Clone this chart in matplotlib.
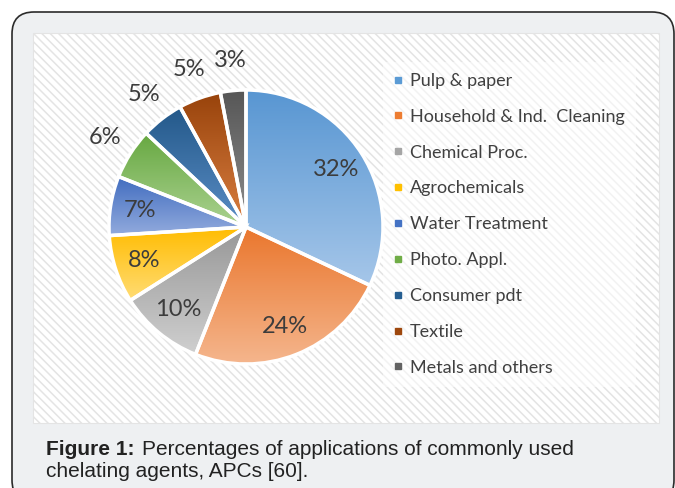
import numpy as np
import matplotlib.pyplot as plt
from matplotlib.patches import FancyBboxPatch, Rectangle
from matplotlib.lines import Line2D
from matplotlib.colors import LinearSegmentedColormap

# data
categories = ['Pulp & paper', 'Household & Ind.  Cleaning', 'Chemical Proc.', 'Agrochemicals',
              'Water Treatment', 'Photo. Appl.', 'Consumer pdt', 'Textile', 'Metals and others']
shares = [32, 24, 10, 8, 7, 6, 5, 5, 3]
base_colors = ['#5B9BD5', '#ED7D31', '#A5A5A5', '#FFC000', '#4472C4',
               '#70AD47', '#255E91', '#9E480E', '#636363']
top_colors = ['#5896d2', '#ea772e', '#979797', '#ffbc00', '#416dc0',
              '#67a841', '#235889', '#98430b', '#575757']
bottom_colors = ['#a5c6e9', '#f5b78f', '#cfcfcf', '#ffdc74', '#93abdd',
                 '#abd291', '#5b8ec6', '#da7f42', '#8c8c8c']

plt.rcParams['hatch.color'] = '#cdcdcd'
plt.rcParams['hatch.linewidth'] = 1.1

fig = plt.figure(figsize=(6.75, 4.88), dpi=100)
fig.patch.set_facecolor('white')

# background axes in pixel units
bg = fig.add_axes([0, 0, 1, 1])
bg.set_xlim(0, 675)
bg.set_ylim(488, 0)
bg.axis('off')
bg.add_patch(FancyBboxPatch((12, 12), 662, 490, boxstyle='round,pad=0,rounding_size=22',
                            facecolor='#eef0f2', edgecolor='#2b2b2b', linewidth=1.2))
bg.add_patch(Rectangle((33, 33), 626, 390, facecolor='white', edgecolor='#e4e4e4',
                       hatch='\\\\\\\\', linewidth=0.8))
bg.text(46, 455, 'Figure 1:', fontsize=15, fontweight='bold', family='Liberation Sans',
        color='#222222', va='baseline')
bg.text(142, 455, 'Percentages of applications of commonly used', fontsize=15,
        family='Liberation Sans', color='#222222', va='baseline')
bg.text(46, 477, 'chelating agents, APCs [60].', fontsize=15,
        family='Liberation Sans', color='#222222', va='baseline')

# pie axes: center (246, 227) px, radius 137 px
cx, cy, r = 246, 227, 137
ax = fig.add_axes([(cx - r) / 675, (488 - cy - r) / 488, 2 * r / 675, 2 * r / 488])
ax.set_xlim(-1, 1)
ax.set_ylim(-1, 1)
ax.axis('off')

wedges, _ = ax.pie(shares, startangle=90, counterclock=False, radius=1,
                   wedgeprops=dict(edgecolor='white', linewidth=2.5))
for w, c0, c1 in zip(wedges, top_colors, bottom_colors):
    verts = w.get_path().vertices
    y0, y1 = verts[:, 1].min(), verts[:, 1].max()
    x0, x1 = verts[:, 0].min(), verts[:, 0].max()
    cmap = LinearSegmentedColormap.from_list('g', [c1, c0])
    grad = np.linspace(0, 1, 100).reshape(-1, 1)
    im = ax.imshow(grad, cmap=cmap, extent=[x0, x1, y0, y1], origin='lower',
                   aspect='auto', zorder=1)
    im.set_clip_path(w)
    w.set_facecolor('none')
    w.set_zorder(2)
ax.set_xlim(-1, 1)
ax.set_ylim(-1, 1)

for w, v in zip(wedges, shares):
    ang = np.deg2rad((w.theta1 + w.theta2) / 2)
    d = 0.78 if v >= 7 else 1.22
    ax.text(d * np.cos(ang), d * np.sin(ang), f'{v}%', ha='center', va='center',
            fontsize=17, family='Lato', color='#3c3c3c', zorder=3, clip_on=False)

handles = [Line2D([], [], marker='s', linestyle='none', markersize=4.5,
                  markerfacecolor=c, markeredgecolor=c) for c in base_colors]
leg = fig.legend(handles, categories, loc='upper left', bbox_to_anchor=(374 / 675, 1 - 53 / 488),
                 frameon=True, labelspacing=1.1, handlelength=0.5,
                 handletextpad=0.4, borderpad=0.6, prop={'family': 'Lato', 'size': 13})
leg.get_frame().set_facecolor('white')
leg.get_frame().set_alpha(0.55)
leg.get_frame().set_linewidth(0)
for t in leg.get_texts():
    t.set_color('#404040')

fig.savefig('out.png', dpi=100)
